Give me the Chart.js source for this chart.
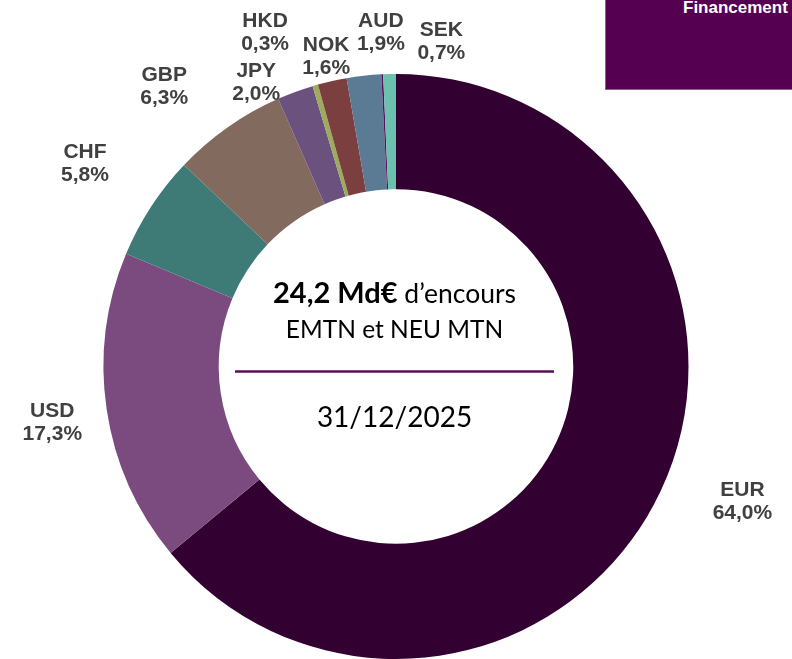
<!DOCTYPE html>
<html>
<head>
<meta charset="utf-8">
<script src="https://cdn.jsdelivr.net/npm/chart.js@4/dist/chart.umd.min.js"></script>
<style>
    html, body { margin: 0; padding: 0; background: #ffffff; overflow: hidden; }
    #wrap { position: relative; width: 792px; height: 659px; }
    #topBox {
        position: absolute; left: 605px; top: 0; width: 187px; height: 89px;
        background: #560052; border-left: 1px solid #8f5f8d; border-bottom: 1px solid #8f5f8d;
        overflow: hidden;
    }
    #topBox span {
        position: absolute; left: 77px; top: -2px; white-space: nowrap;
        font: bold 17px "Liberation Sans", Arial, sans-serif; color: #ffffff;
    }
</style>
</head>
<body>
<div id="wrap">
    <canvas id="currencyChart" width="792" height="659"></canvas>
    <div id="topBox"><span>Financement</span></div>
</div>
<script>
    // Encours EMTN et NEU MTN par devise (%)
    const currencies = ["EUR", "USD", "CHF", "GBP", "JPY", "HKD", "NOK", "AUD", "Autres", "SEK"];
    const shares = [64.0, 17.3, 5.8, 6.3, 2.0, 0.3, 1.6, 1.9, 0.1, 0.7];
    const sliceColors = ["#320031", "#7b4b80", "#3e7b77", "#836a5f", "#6a517e",
        "#9cab5c", "#7b3f40", "#5b7a93", "#5a1060", "#6ac1ae"];

    const totalText = "24,2 Md€";
    const totalSuffix = " d\u2019encours";
    const subtitleText = "EMTN et NEU MTN";
    const dateText = "31/12/2025";

    // label nudges from the radial anchor (Excel labels were moved by hand)
    const labelNudge = {
        EUR: [32, -14], USD: [0, 3], CHF: [-20, -15], GBP: [-32, 3], JPY: [-20, 41],
        HKD: [-35, -1], NOK: [6, 28], AUD: [23, 10], SEK: [53, 21]
    };

    const sliceLabels = {
        id: "sliceLabels",
        afterDraw: function (chart) {
            const ctx = chart.ctx;
            const meta = chart.getDatasetMeta(0);
            ctx.save();
            ctx.font = "bold 21px 'Liberation Sans', Arial, sans-serif";
            ctx.fillStyle = "#404040";
            ctx.textAlign = "center";
            ctx.textBaseline = "alphabetic";
            meta.data.forEach(function (arc, i) {
                const name = currencies[i];
                const nudge = labelNudge[name];
                if (!nudge) return;
                const mid = (arc.startAngle + arc.endAngle) / 2;
                const r = arc.outerRadius + 55;
                const x = arc.x + Math.cos(mid) * r + nudge[0];
                const y = arc.y + Math.sin(mid) * r + nudge[1];
                const pct = shares[i].toFixed(1).replace(".", ",") + "%";
                ctx.fillText(name, x, y - 11.5 + 7.5);
                ctx.fillText(pct, x, y + 11.5 + 7.5);
            });
            ctx.restore();
        }
    };

    const centerText = {
        id: "centerText",
        afterDraw: function (chart) {
            const ctx = chart.ctx;
            const arc = chart.getDatasetMeta(0).data[0];
            const cx = arc.x - 1.5;
            const cy = arc.y;
            ctx.save();
            ctx.fillStyle = "#000000";
            ctx.textBaseline = "alphabetic";

            const boldFont = "bold 29px Lato, sans-serif";
            const regFont = "26.5px Lato, sans-serif";
            ctx.font = boldFont;
            const w1 = ctx.measureText(totalText).width;
            ctx.font = regFont;
            const w2 = ctx.measureText(totalSuffix).width;
            const x0 = cx - (w1 + w2) / 2;
            ctx.textAlign = "left";
            ctx.font = boldFont;
            ctx.fillText(totalText, x0, cy - 63.5);
            ctx.font = regFont;
            ctx.fillText(totalSuffix, x0 + w1, cy - 63.5);

            ctx.textAlign = "center";
            ctx.font = "24.5px Lato, sans-serif";
            ctx.fillText(subtitleText, cx, cy - 28.5);

            ctx.strokeStyle = "#5d0b5b";
            ctx.lineWidth = 2.5;
            ctx.beginPath();
            ctx.moveTo(cx - 159.5, cy + 5);
            ctx.lineTo(cx + 159.5, cy + 5);
            ctx.stroke();

            ctx.font = "28px Lato, sans-serif";
            ctx.fillText(dateText, cx, cy + 60.5);
            ctx.restore();
        }
    };

    new Chart(document.getElementById("currencyChart"), {
        type: "doughnut",
        data: {
            labels: currencies,
            datasets: [
                {
                    data: shares,
                    backgroundColor: sliceColors,
                    borderWidth: 0,
                },
            ],
        },
        options: {
            responsive: false,
            animation: false,
            cutout: "60.6%",
            layout: {
                padding: { top: 74, bottom: 0, left: 0, right: 0 },
            },
            plugins: {
                legend: { display: false },
                tooltip: { enabled: false },
            },
        },
        plugins: [sliceLabels, centerText],
    });
</script>
</body>
</html>
